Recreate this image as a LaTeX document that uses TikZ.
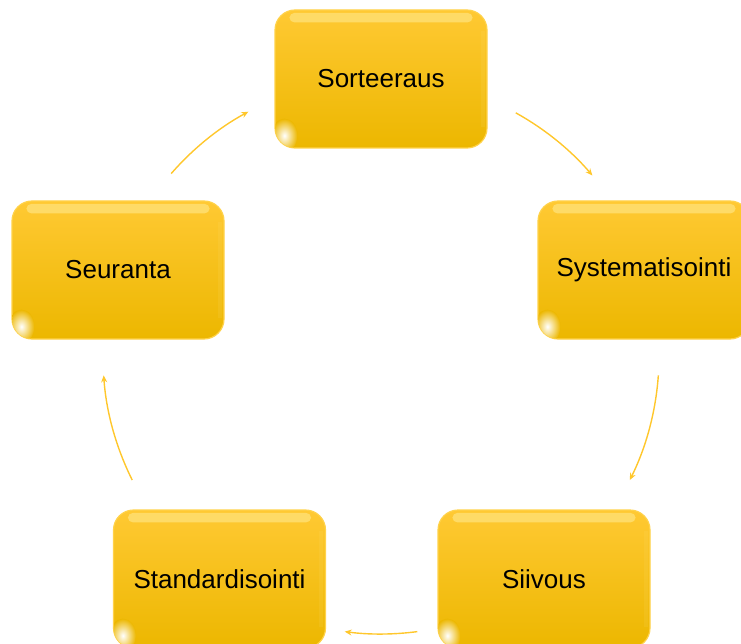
\documentclass[tikz,border=0pt]{standalone}
\usepackage{fontspec}
\setmainfont{Liberation Sans}
\usetikzlibrary{arrows.meta,calc}
\definecolor{boxtop}{HTML}{FFC933}
\definecolor{boxbot}{HTML}{ECB700}
\definecolor{boxedge}{HTML}{FFD24A}
\definecolor{glossc}{HTML}{FFE27A}
\definecolor{arrowc}{HTML}{FFC72C}
\tikzset{
  stepbox/.style={rounded corners=20pt, minimum width=212pt, minimum height=138pt,
    top color=boxtop, bottom color=boxbot, draw=boxedge, line width=1.2pt,
    text=black, font=\fontsize{26}{30}\selectfont, inner sep=0pt},
  conn/.style={draw=arrowc, line width=1.4pt, -{Stealth[length=7pt,width=6pt]}}
}
\newcommand\glossfx[1]{%
  \fill[glossc,opacity=0.75,rounded corners=5pt] ($(#1.north west)+(15,3.5)$) rectangle ($(#1.north east)+(-15,13)$);
  \fill[glossc,opacity=0.12] ($(#1.north east)+(-7,22)$) rectangle ($(#1.south east)+(-3,-22)$);
  \coordinate (#1-glow) at ($(#1.south west)+(10,-13)$);
  \begin{scope}
    \clip[rounded corners=19pt] ($(#1.south west)+(1,-1)$) rectangle ($(#1.south west)+(40,-40)$);
    \begin{scope}[shift={(#1-glow)}]
      \shade[inner color=white,outer color=boxbot] (0,0) ellipse[x radius=13, y radius=17];
    \end{scope}
  \end{scope}
}
\begin{document}
\begin{tikzpicture}[x=1pt,y=-1pt]
\useasboundingbox (0,0) rectangle (741,644);
\clip (0,0) rectangle (741,644);
\node[stepbox] (sort) at (381,79) {Sorteeraus};
\node[stepbox] (sys) at (644,270) {Systematisointi};
\node[stepbox] (siiv) at (544,579) {Siivous};
\node[stepbox] (stand) at (219.5,579) {Standardisointi};
\node[stepbox] (seur) at (118,270) {Seuranta};
\glossfx{sort}\glossfx{sys}\glossfx{siiv}\glossfx{stand}\glossfx{seur}
\coordinate (O) at (381,356);
\coordinate (a1) at ($(O)+(-61:278)$);
\coordinate (a2) at ($(O)+(4:278)$);
\coordinate (a3) at ($(O)+(82.5:278)$);
\coordinate (a4) at ($(O)+(153.5:278)$);
\coordinate (a5) at ($(O)+(-139:278)$);
\draw[conn] (a1) arc[start angle=-61, end angle=-40.5, radius=278];
\draw[conn] (a2) arc[start angle=4, end angle=26.5, radius=278];
\draw[conn] (a3) arc[start angle=82.5, end angle=97.5, radius=278];
\draw[conn] (a4) arc[start angle=153.5, end angle=176, radius=278];
\draw[conn] (a5) arc[start angle=-139, end angle=-118.5, radius=278];
\end{tikzpicture}
\end{document}
